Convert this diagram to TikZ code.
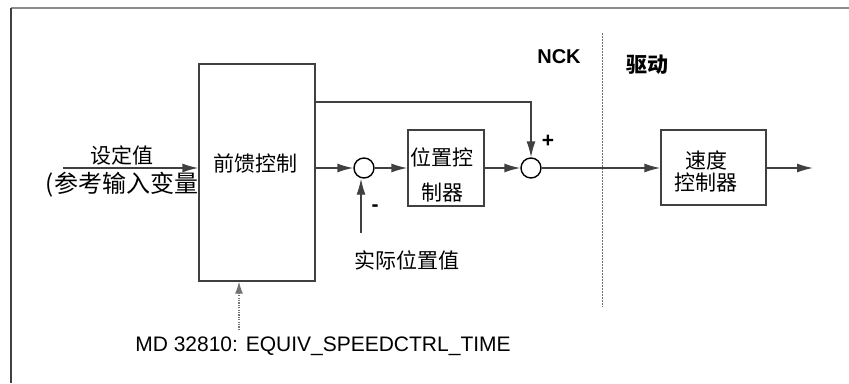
\documentclass[tikz,border=0pt]{standalone}
\usepackage{fontspec}
\setmainfont{Liberation Sans}
\newfontfamily\cjk{Noto Sans CJK SC}
\usetikzlibrary{arrows.meta,calc}
\begin{document}
\begin{tikzpicture}[x=1pt,y=-1pt,
  ln/.style={draw=black!75, line width=1.4pt},
  arr/.style={ln, -{Latex[length=16pt,width=9pt]}},
  box/.style={draw=black!75, line width=1.4pt, inner sep=0pt, fill=none},
  sumc/.style={circle, draw=black, line width=1.4pt, minimum size=20pt, inner sep=0pt},
  cjkt/.style={font=\cjk\fontsize{21}{25}\selectfont, inner sep=0pt, align=center},
  latt/.style={font=\fontsize{21}{25}\selectfont, inner sep=0pt},
  sgn/.style={font=\bfseries\fontsize{21}{22}\selectfont, inner sep=0pt},
  divider/.style={draw=black!55, line width=0.8pt, dash pattern=on 1.5pt off 1.5pt},
  dotarr/.style={draw=black!55, line width=1.1pt, dash pattern=on 1.2pt off 1.2pt, -{Latex[length=12pt,width=8pt]}}
]
\useasboundingbox (0,0) rectangle (849,383);
% frame
\draw[draw=black!45, line width=1.6pt] (849,8) -- (11,8);
\draw[draw=black!75, line width=2pt] (11,8) -- (11,383);

% boxes
\node[box, minimum width=116pt, minimum height=217pt] (ff) at (257,172.5) {};
\node[box, minimum width=76pt, minimum height=76pt] (pc) at (446,168) {};
\node[box, minimum width=105pt, minimum height=75pt] (vc) at (713.5,167.5) {};
\node[sumc] (c1) at (364,168) {};
\node[sumc] (c2) at (531,168) {};

% texts
\node[cjkt] (tff) at (255,163) {前馈控制};
\node[cjkt] (tpc1) at (442,157) {位置控};
\node[cjkt] (tpc2) at (442,193) {制器};
\node[cjkt] (tvc1) at (706,160) {速度};
\node[cjkt] (tvc2) at (706,183) {控制器};
\node[cjkt] (tin1) at (122,155) {设定值};
\node[cjkt, font=\cjk\fontsize{24}{28}\selectfont] (tin2) at (122,185) {(参考输入变量};
\node[cjkt] (tact) at (407,260) {实际位置值};
\node[latt, font=\bfseries\fontsize{20}{24}\selectfont] (tnck) at (559,57) {NCK};
\node[cjkt, font=\cjk\bfseries\fontsize{21}{25}\selectfont] (tdrv) at (647,65) {驱动};
\node[latt] (tmd) at (323,346) {MD 32810: EQUIV\_SPEEDCTRL\_TIME};
\node[sgn] (tplus) at (548,141) {+};
\node[sgn] (tminus) at (375,208) {-};

% divider
\draw[divider] (602,33) -- (602,307);

% coordinates
\coordinate (in) at (63,168);
\coordinate (out) at (813,168);
\coordinate (tapy) at (0,102);
\coordinate (fb) at (361,233);
\coordinate (md) at (239,330);

% connectors
\draw[arr] (in) -- (ff.west |- in);
\draw[arr] (ff.east |- c1) -- (c1.west);
\draw[arr] (c1.east) -- (pc.west |- c1);
\draw[arr] (pc.east |- c2) -- (c2.west);
\draw[arr] (c2.east) -- (vc.west |- c2);
\draw[arr] (vc.east |- c2) -- (out);
\draw[arr] (ff.east |- tapy) -| (c2.north);
\draw[arr] (fb) -- (c1.south -| fb);
\draw[dotarr] (md) -- (ff.south -| md);
\end{tikzpicture}
\end{document}
